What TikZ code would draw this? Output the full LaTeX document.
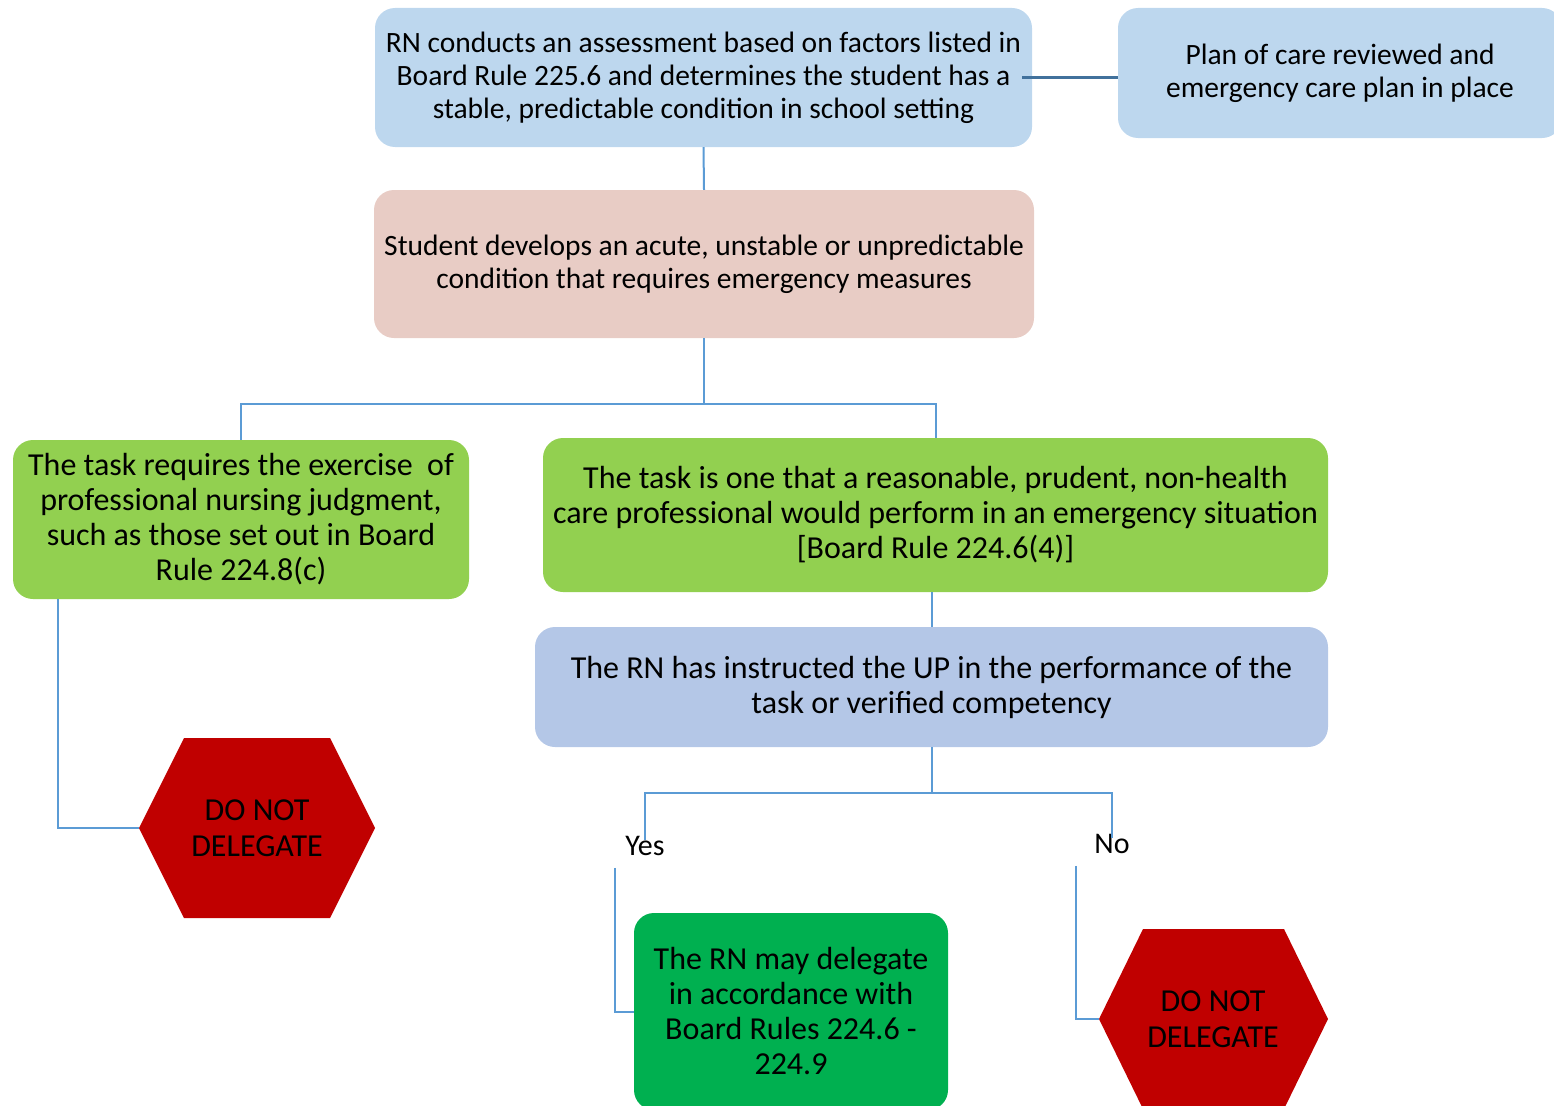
\documentclass[tikz,border=0pt]{standalone}
\usepackage{fontspec}
\setmainfont{Carlito}
\usepackage{tikz}
\usetikzlibrary{positioning}
\usepackage{xcolor}
\definecolor{paleblue}{HTML}{BDD7EE}
\definecolor{palepink}{HTML}{E8CCC5}
\definecolor{leafgreen}{HTML}{92D050}
\definecolor{greyblue}{HTML}{B4C7E7}
\definecolor{okgreen}{HTML}{00B050}
\definecolor{stopred}{HTML}{C00000}
\definecolor{linkcol}{HTML}{5B9BD5}
\definecolor{linkdark}{HTML}{41719C}
\tikzstyle{box}=[rounded corners=20,align=center,inner sep=0,font=\fontsize{29.5}{33}\selectfont]
\tikzstyle{bigbox}=[box,font=\fontsize{32}{35}\selectfont]
\tikzstyle{link}=[line width=2,draw=linkcol]
\tikzstyle{stop}=[fill=stopred,draw=none]
\tikzstyle{stoptext}=[align=center,inner sep=0,font=\fontsize{32}{36}\selectfont]
\tikzstyle{answer}=[inner sep=0,font=\fontsize{30}{33}\selectfont]

\begin{document}
\begin{tikzpicture}[x=1pt,y=-1pt]
  \useasboundingbox (0,0) rectangle (1554,1105);
  \clip (0,0) rectangle (1554,1105);

  % BOXES
  \node[box,fill=paleblue,minimum width=657,minimum height=139] (assess) at (703.5,77.5)
    {RN conducts an assessment based on factors listed in\\
     Board Rule 225.6 and determines the student has a\\
     stable, predictable condition in school setting};
  \node[box,fill=paleblue,minimum width=444,minimum height=130] (plan) at (1340,73)
    {Plan of care reviewed and\\emergency care plan in place};
  \node[box,fill=palepink,minimum width=660,minimum height=148] (crisis) at (704,264)
    {Student develops an acute, unstable or unpredictable\\
     condition that requires emergency measures};
  \node[bigbox,fill=leafgreen,minimum width=456,minimum height=159] (judge) at (241,519.5)
    {The task requires the exercise\ \ of\\
     professional nursing judgment,\\
     such as those set out in Board\\
     Rule 224.8(c)};
  \node[bigbox,fill=leafgreen,minimum width=785,minimum height=154] (perform) at (935.5,515)
    {The task is one that a reasonable, prudent, non-health\\
     care professional would perform in an emergency situation\\{}%
     [Board Rule 224.6(4)]};
  \node[bigbox,fill=greyblue,minimum width=793,minimum height=120] (instruct) at (931.5,687)
    {The RN has instructed the UP in the performance of the\\
     task or verified competency};
  \node[bigbox,fill=okgreen,minimum width=314,minimum height=197] (delegate) at (791,1011.5)
    {The RN may delegate\\in accordance with\\Board Rules 224.6 -\\224.9};

  % STOP SIGNS
  \draw[stop] (139,828) coordinate (hexL-w) -- (184,738) -- (330,738) -- (375,828)
    -- (330,918) -- (184,918) -- cycle;
  \node[stoptext] (stopL) at (257,828) {DO NOT\\DELEGATE};
  \draw[stop] (1099,1019) coordinate (hexR-w) -- (1143,929) -- (1284,929) -- (1328,1019)
    -- (1284,1109) -- (1143,1109) -- cycle;
  \node[stoptext] (stopR) at (1213,1019) {DO NOT\\DELEGATE};

  % ANSWERS
  \node[answer] (yes) at (645,846) {Yes};
  \node[answer] (no) at (1112,844) {No};

  % LINKS
  \draw[link,draw=linkdark,line width=2.5] ([xshift=-10pt]assess.east) -- (assess.east -| plan.west);
  \draw[link] (assess.south) -- (crisis.north);
  \draw[link] (crisis.south) -- ++(0,66) coordinate (split1);
  \draw[link] (split1) -| (judge.north);
  \draw[link] (split1) -| (perform.north);
  \draw[link] (perform.south -| instruct.north) -- (instruct.north);
  \draw[link] (instruct.south) -- ++(0,46) coordinate (split2);
  \draw[link] (split2) -| ([yshift=-4pt]yes.north);
  \draw[link] (split2) -| ([yshift=-4pt]no.north);
  \draw[link] ([xshift=45pt]judge.south west) |- (hexL-w);
  \draw[link] ([xshift=-10pt,yshift=-12pt]yes.south west) |- (delegate.west);
  \draw[link] ([xshift=-18pt,yshift=-12pt]no.south west) |- (hexR-w);
\end{tikzpicture}
\end{document}
